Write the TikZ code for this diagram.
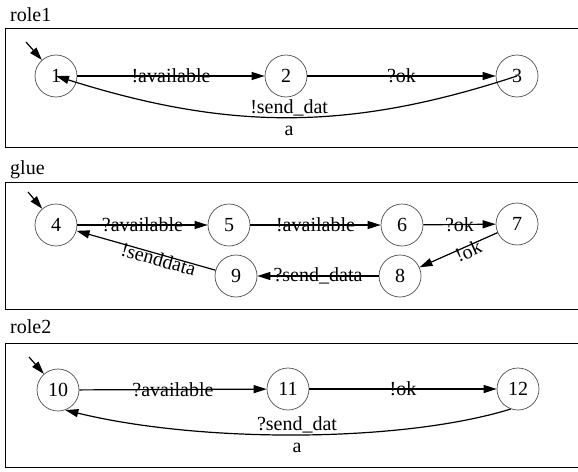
\documentclass[tikz,border=0pt]{standalone}
\usepackage{fontspec}
\setmainfont{Liberation Serif}
\usetikzlibrary{arrows.meta}
\begin{document}
\begin{tikzpicture}[x=1pt,y=-1pt,
  state/.style={circle,draw=black!70,line width=0.7pt,minimum size=42pt,inner sep=0pt,font=\fontsize{20}{22}\selectfont},
  trans/.style={line width=1.2pt,-{Triangle[length=13pt,width=8pt]}},
  lbl/.style={font=\fontsize{20}{22}\selectfont,inner sep=1pt},
  frame/.style={line width=0.9pt},
  title/.style={anchor=base west,font=\fontsize{20}{22}\selectfont,inner sep=0pt}]
\useasboundingbox (0,0) rectangle (578,471);

% ---------- role1 ----------
\node[title] (t1) at (10,21) {role1};
\draw[frame] (5,28) rectangle (590,147);
\node[state] (n1) at (56,76) {1};
\node[state] (n2) at (286,76) {2};
\node[state] (n3) at (517,76) {3};
\coordinate (i1) at (26,42);
\draw[trans] (i1) -- (n1);
\draw[trans] (n1) -- node[lbl]{!available} (n2);
\draw[trans] (n2) -- node[lbl]{?ok} (n3);
\draw[trans] (n3.center) .. controls (350,131) and (230,131) .. (n1.center)
  node[lbl,pos=0.5,align=center]{!send\_dat\\a};

% ---------- glue ----------
\node[title] (t2) at (10,174) {glue};
\draw[frame] (5,182) rectangle (590,309);
\node[state] (n4) at (56,225) {4};
\node[state] (n5) at (229,225) {5};
\node[state] (n6) at (402,225) {6};
\node[state] (n7) at (517,224) {7};
\node[state] (n8) at (400,276) {8};
\node[state] (n9) at (236,276) {9};
\coordinate (i4) at (28,192);
\draw[trans] (i4) -- (n4);
\draw[trans] (n4) -- node[lbl]{?available} (n5);
\draw[trans] (n5) -- node[lbl]{!available} (n6);
\draw[trans] (n6) -- node[lbl]{?ok} (n7);
\draw[trans] (n7) -- node[lbl,pos=0.4,sloped,yshift=-5pt]{!ok} (n8);
\draw[trans] (n8) -- node[lbl]{?send\_data} (n9);
\draw[trans] (n9) -- node[lbl,pos=0.4,sloped,yshift=-5pt]{!senddata} (n4);

% ---------- role2 ----------
\node[title] (t3) at (10,333) {role2};
\draw[frame] (5,343) rectangle (590,467);
\node[state] (n10) at (58,390) {10};
\node[state] (n11) at (288,389) {11};
\node[state] (n12) at (518,389) {12};
\coordinate (i10) at (29,357);
\draw[trans] (i10) -- (n10);
\draw[trans] (n10) -- node[lbl]{?available} (n11);
\draw[trans] (n11) -- node[lbl]{!ok} (n12);
\draw[trans] (n12.250) .. controls (400,443) and (200,443) .. (n10.-70)
  node[lbl,pos=0.5,align=center]{?send\_dat\\a};
\end{tikzpicture}
\end{document}
